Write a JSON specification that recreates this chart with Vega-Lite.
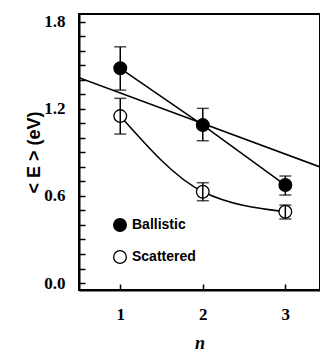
{
  "$schema": "https://vega.github.io/schema/vega-lite/v6.json",
  "width": 241,
  "height": 276,
  "autosize": "none",
  "padding": {"left": 79, "top": 14, "right": 0, "bottom": 61},
  "background": "white",
  "view": {"stroke": "black", "strokeWidth": 2},
  "datasets": {
    "energy": [
      {"series": "Ballistic", "n": 1, "E": 1.479, "lo": 1.329, "hi": 1.627},
      {"series": "Ballistic", "n": 2, "E": 1.088, "lo": 0.98, "hi": 1.203},
      {"series": "Ballistic", "n": 3, "E": 0.675, "lo": 0.606, "hi": 0.737},
      {"series": "Scattered", "n": 1, "E": 1.15, "lo": 1.026, "hi": 1.272},
      {"series": "Scattered", "n": 2, "E": 0.629, "lo": 0.567, "hi": 0.691},
      {"series": "Scattered", "n": 3, "E": 0.491, "lo": 0.441, "hi": 0.537}
    ],
    "fit": [
      {"n": 0.5, "E": 1.414},
      {"n": 3.42, "E": 0.8}
    ]
  },
  "config": {
    "axis": {
      "domainColor": "black",
      "domainWidth": 2,
      "tickColor": "black",
      "tickWidth": 1.5,
      "tickSize": -6,
      "grid": false,
      "labelColor": "black",
      "labelFont": "Liberation Serif",
      "labelFontWeight": "bold",
      "labelFontSize": 17,
      "labelOverlap": false,
      "labelFlush": false,
      "titleColor": "black"
    },
    "legend": {
      "orient": "none",
      "legendX": 34,
      "legendY": 204,
      "padding": 0,
      "symbolType": "circle",
      "symbolSize": 160,
      "symbolStrokeColor": "black",
      "symbolStrokeWidth": 1.3,
      "symbolOpacity": 1,
      "labelFont": "Liberation Sans",
      "labelFontWeight": "bold",
      "labelFontSize": 14,
      "labelColor": "black",
      "labelOffset": 5,
      "rowPadding": 14
    }
  },
  "encoding": {
    "x": {
      "field": "n",
      "type": "quantitative",
      "scale": {"domain": [0.5, 3.42], "nice": false, "zero": false},
      "axis": {
        "values": [1, 2, 3],
        "format": "d",
        "labelPadding": 22,
        "title": "n",
        "titleFont": "Liberation Serif",
        "titleFontStyle": "italic",
        "titleFontWeight": "bold",
        "titleFontSize": 18,
        "titleY": 53,
        "titleBaseline": "middle"
      }
    },
    "y": {
      "field": "E",
      "type": "quantitative",
      "scale": {"domain": [-0.048, 1.853], "nice": false, "zero": false},
      "axis": {
        "values": [0, 0.1, 0.2, 0.3, 0.4, 0.5, 0.6, 0.7, 0.8, 0.9, 1.0, 1.1, 1.2, 1.3, 1.4, 1.5, 1.6, 1.7, 1.8],
        "labelExpr": "indexof(['0.0','0.6','1.2','1.8'], format(datum.value, '.1f')) >= 0 ? format(datum.value, '.1f') : ''",
        "labelPadding": 20,
        "title": "< E > (eV)",
        "titleFont": "Liberation Sans",
        "titleFontWeight": "bold",
        "titleFontSize": 18,
        "titleAngle": -90,
        "titleX": -45,
        "titleY": 138,
        "titleAlign": "center",
        "titleBaseline": "middle"
      }
    }
  },
  "layer": [
    {
      "data": {"name": "fit"},
      "mark": {"type": "line", "color": "black", "strokeWidth": 1.6, "clip": true}
    },
    {
      "data": {"name": "energy"},
      "transform": [{"filter": "datum.series === 'Ballistic'"}],
      "mark": {"type": "line", "color": "black", "strokeWidth": 1.5}
    },
    {
      "data": {"name": "energy"},
      "transform": [{"filter": "datum.series === 'Scattered'"}],
      "mark": {"type": "line", "color": "black", "strokeWidth": 1.5, "interpolate": "monotone"}
    },
    {
      "data": {"name": "energy"},
      "mark": {"type": "circle", "size": 160, "stroke": "black", "strokeWidth": 1.3, "opacity": 1},
      "encoding": {
        "fill": {
          "field": "series",
          "type": "nominal",
          "scale": {"domain": ["Ballistic", "Scattered"], "range": ["black", "white"]},
          "legend": {"title": null}
        }
      }
    },
    {
      "data": {"name": "energy"},
      "mark": {"type": "errorbar", "color": "black", "thickness": 1.5, "ticks": {"size": 12, "thickness": 1.5}},
      "encoding": {
        "y": {"field": "lo", "type": "quantitative"},
        "y2": {"field": "hi"}
      }
    }
  ]
}
